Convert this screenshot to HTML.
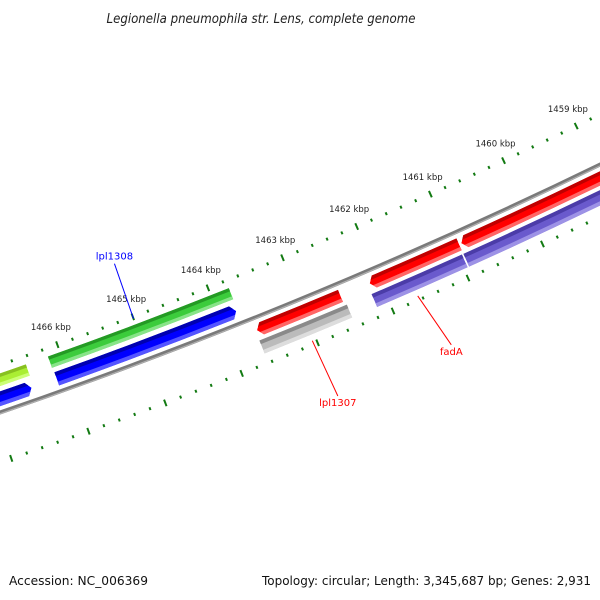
<!DOCTYPE html>
<html><head><meta charset="utf-8"><style>
html,body{margin:0;padding:0;background:#fff;}
svg{display:block;font-family:"DejaVu Sans","Liberation Sans",sans-serif;}
</style></head><body>
<svg id="map" width="600" height="600" viewBox="0 0 600 600">
<text x="261" y="23" text-anchor="middle" font-size="13" font-style="italic" fill="#222" textLength="309" lengthAdjust="spacingAndGlyphs">Legionella pneumophila str. Lens, complete genome</text>
<g id="ticks"></g>
<g id="backbone"></g>
<g id="features"></g>
<g id="labels"></g>
<text x="9" y="585" font-size="12" fill="#111" textLength="139" lengthAdjust="spacingAndGlyphs">Accession: NC_006369</text>
<text x="591" y="585" text-anchor="end" font-size="12" fill="#111" textLength="329" lengthAdjust="spacingAndGlyphs">Topology: circular; Length: 3,345,687 bp; Genes: 2,931</text>
</svg>
<script>
// data
const featStart = [1466.45, 1466.48, 1463.76, 1463.78, 1462.52, 1462.49, 1460.93, 1460.95, 1456.5, 1456.5];
const featEnd   = [1468.5,  1468.5,  1466.16, 1466.15, 1463.63, 1463.65, 1462.13, 1462.16, 1460.93, 1460.90];
const featRing  = [-1, -2, -1, -2, 1, 2, 1, 2, 2, 1];
const featColor = ['yg','blue','green','blue','red','grey','red','lav','lav','red'];
const featArrow = ['none','min','none','min','max','none','max','none','none','max'];
const tickLabels = [1459,1460,1461,1462,1463,1464,1465,1466];
const calloutNames = ['lpl1308','lpl1307','fadA'];
const calloutKbp = [1465.0, 1463.05, 1461.65];
const calloutSide = [-1, 1, 1];

const NS='http://www.w3.org/2000/svg';
const CX=-1738, CY=-4642, RB=5345;
const LABEL_SHIFT=[[1,-7],[4,8],[11,2]];
const rad=d=>d*Math.PI/180;
function ang(k){return 70.2+(k-1466)*0.87;}
function pt(r,a){return [CX+r*Math.cos(rad(a)), CY+r*Math.sin(rad(a))];}
function mk(tag,attrs,parent){const e=document.createElementNS(NS,tag);for(const k in attrs)e.setAttribute(k,attrs[k]);parent.appendChild(e);return e;}
const ringR={'-1':[5308,5320],'-2':[5325,5339],'1':[5351,5364],'2':[5368,5382]};
const pal={yg:['#88c020','#aaee33','#ccff77'],blue:['#0000b0','#0000ff','#5555ff'],green:['#249a24','#3ccc3c','#88e488'],
red:['#c00000','#ff0000','#ff6666'],grey:['#8a8a8a','#bbbbbb','#dddddd'],lav:['#4b3ca8','#6a5acd','#9d92e6']};

function band(kmin,kmax,r1,r2,arrow){
  const a1=ang(kmax), a2=ang(kmin), ta=5/RB*180/Math.PI, rm=(r1+r2)/2;
  let s='';
  const A1=arrow==='max'?a1-ta:a1, A2=arrow==='min'?a2+ta:a2;
  let p=pt(r1,A1); s+='M'+p[0]+','+p[1];
  if(arrow==='max'){p=pt(rm,a1); s='M'+p[0]+','+p[1]; p=pt(r1,A1); s+='L'+p[0]+','+p[1];}
  p=pt(r1,A2); s+='A'+r1+','+r1+' 0 0 0 '+p[0]+','+p[1];
  if(arrow==='min'){p=pt(rm,a2); s+='L'+p[0]+','+p[1];}
  p=pt(r2,A2); s+='L'+p[0]+','+p[1];
  p=pt(r2,A1); s+='A'+r2+','+r2+' 0 0 1 '+p[0]+','+p[1];
  s+='Z'; return s;
}
function arc(r,kmin,kmax){const a=pt(r,ang(kmax)),b=pt(r,ang(kmin));return 'M'+a[0]+','+a[1]+'A'+r+','+r+' 0 0 0 '+b[0]+','+b[1];}

// ticks
const tg=document.getElementById('ticks');
for(let i=0;i<=60;i++){
  const k=1457+i*0.2; const major=Math.abs(k-Math.round(k))<1e-6;
  [5300,5392].forEach(rc=>{
    const L=major?3.5:1.5; const a=ang(k);
    const p=pt(rc-L,a), q=pt(rc+L,a);
    const l=mk('line',{x1:p[0],y1:p[1],x2:q[0],y2:q[1],stroke:'#127a12','stroke-width':2},tg);
    
    
  });
}
tickLabels.forEach(k=>{
  const p=pt(5281,ang(k));
  const t=mk('text',{x:p[0],y:p[1]+3,'text-anchor':'middle','font-size':8.5,fill:'#222'},tg);
  t.textContent=k+' kbp';
  
  
});

// backbone
const bg=document.getElementById('backbone');
mk('path',{d:arc(RB,1456.5,1468.5),stroke:'#7a7a7a','stroke-width':4,fill:'none'},bg);
mk('path',{d:arc(RB+1.2,1456.5,1468.5),stroke:'#b0b0b0','stroke-width':1.2,fill:'none'},bg);

// features
const fg=document.getElementById('features');
const defs=mk('defs',{},fg);
featStart.forEach((s,i)=>{
  const [r1,r2]=ringR[String(featRing[i])]; const c=pal[featColor[i]];
  const d=band(s,featEnd[i],r1,r2,featArrow[i]);
  const cp=mk('clipPath',{id:'c'+i},defs); mk('path',{d:d},cp);
  const g=mk('g',{'clip-path':'url(#c'+i+')'},fg);
  
  
  mk('path',{d:d,fill:c[1]},g);
  const h=(r2-r1)*0.28;
  mk('path',{d:band(s-1,featEnd[i]+1,r1-2,r1+h,'none'),fill:c[0]},g);
  mk('path',{d:band(s-1,featEnd[i]+1,r2-h,r2+2,'none'),fill:c[2]},g);
});

// callouts
const lg=document.getElementById('labels');
calloutNames.forEach((n,i)=>{
  const col=calloutSide[i]<0?'#0000ff':'#ff0000';
  const a=ang(calloutKbp[i]);
  const p=calloutSide[i]<0?pt(5302,a):pt(5388,a);
  const q0=calloutSide[i]<0?pt(5250,a+0.02):pt(5440,a-0.02);
  const q=[q0[0]+LABEL_SHIFT[i][0], q0[1]+LABEL_SHIFT[i][1]];
  const l=mk('line',{x1:p[0],y1:p[1],x2:q[0],y2:q[1],stroke:col,'stroke-width':1},lg);
  
  
  const ty=calloutSide[i]<0?q[1]-4:q[1]+10;
  const t=mk('text',{x:q[0],y:ty,'text-anchor':'middle','font-size':10,fill:col},lg);
  t.textContent=n;
  
  
});
</script>
</body></html>
